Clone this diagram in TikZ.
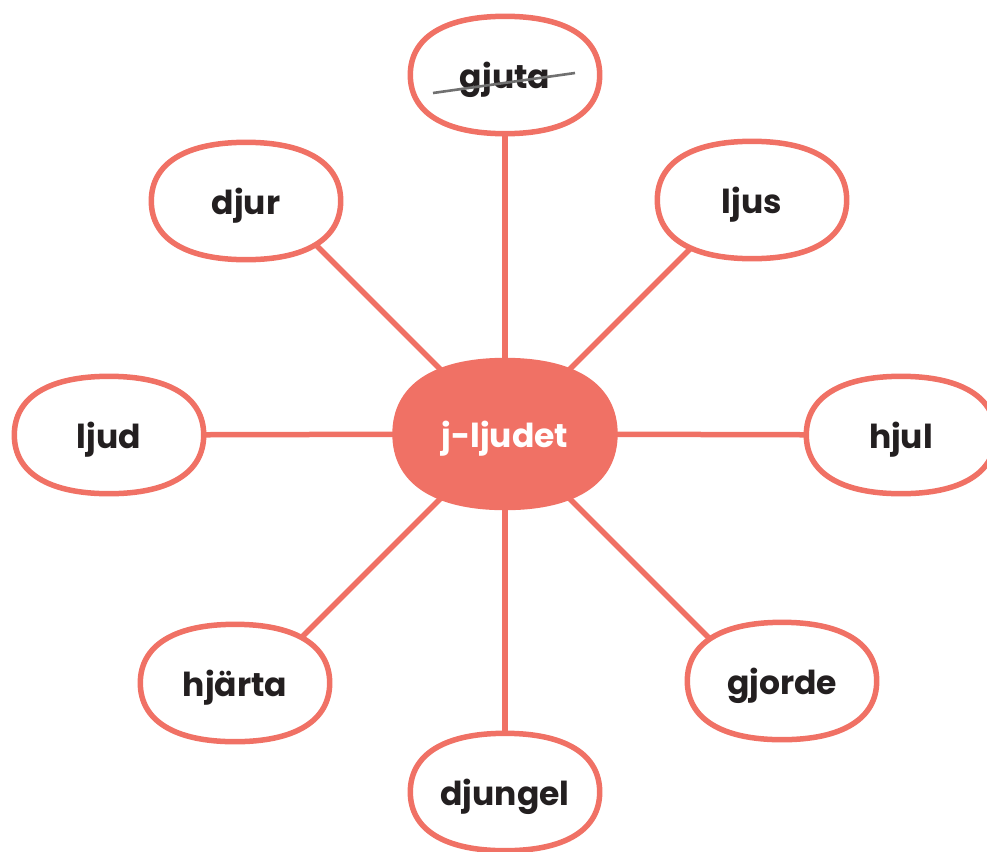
\documentclass[tikz,border=0pt]{standalone}
\usepackage{fontspec}
\setmainfont{Poppins}
\usetikzlibrary{calc}
\pgfdeclarelayer{bg}
\pgfdeclarelayer{mid}
\pgfsetlayers{bg,mid,main}
\definecolor{salmon}{RGB}{240,113,101}
\definecolor{ink}{RGB}{35,31,32}
\definecolor{strikegray}{RGB}{112,112,112}
\tikzset{
  word/.style={rectangle, inner sep=0pt, minimum width=189pt, minimum height=117pt,
    text depth=0pt, font=\fontsize{33}{36}\selectfont\bfseries, text=ink},
  hub/.style={rectangle, inner sep=0pt, minimum width=225pt, minimum height=152pt,
    text depth=0pt, font=\fontsize{33}{36}\selectfont\bfseries, text=white},
  link/.style={draw=salmon, line width=5.5pt},
  blobline/.style={draw=salmon, line width=5.5pt, fill=white},
  hubfill/.style={fill=salmon},
  strike/.style={draw=strikegray, line width=2.6pt},
}
\newcommand{\blobk}{0.64}
\newcommand{\blobpath}[2]{% #1 node name, #2 style
  \path[#2] (#1.east)
    .. controls ($(#1.east)!\blobk!(#1.north east)$) and ($(#1.north)!\blobk!(#1.north east)$) .. (#1.north)
    .. controls ($(#1.north)!\blobk!(#1.north west)$) and ($(#1.west)!\blobk!(#1.north west)$) .. (#1.west)
    .. controls ($(#1.west)!\blobk!(#1.south west)$) and ($(#1.south)!\blobk!(#1.south west)$) .. (#1.south)
    .. controls ($(#1.south)!\blobk!(#1.south east)$) and ($(#1.east)!\blobk!(#1.south east)$) .. cycle;}
\begin{document}
\begin{tikzpicture}[x=1pt,y=-1pt]
\useasboundingbox (0,0) rectangle (987,851);
% nodes
\node[hub]  (c)      at (505,434) {j-ljudet};
\node[word] (gjuta)  at (505,75)  {gjuta};
\node[word] (djur)   at (246,201) {djur};
\node[word] (ljus)   at (752,200) {ljus};
\node[word] (ljud)   at (109,435) {ljud};
\node[word] (hjul)   at (901,435) {hjul};
\node[word] (hjarta) at (235,683) {hjärta};
\node[word] (gjorde) at (782,681) {gjorde};
\node[word] (djungel) at (505,792) {djungel};
% end points of the 45 degree connectors (inside the target bubbles)
\coordinate (djurhit)   at ($(c.center)+(-233,-233)$);
\coordinate (ljushit)   at ($(c.center)+(234,-234)$);
\coordinate (hjartahit) at ($(c.center)+(-249,249)$);
\coordinate (gjordehit) at ($(c.center)+(247,247)$);
\coordinate (strikeA) at ($(gjuta.center)+(-72,18)$);
\coordinate (strikeB) at ($(gjuta.center)+(70,-2)$);
% connectors
\begin{pgfonlayer}{bg}
  \draw[link] (c.center) -- (gjuta.center);
  \draw[link] (c.center) -- (djungel.center);
  \draw[link] (c.center) -- (ljud.center);
  \draw[link] (c.center) -- (hjul.center);
  \draw[link] (c.center) -- (djurhit);
  \draw[link] (c.center) -- (ljushit);
  \draw[link] (c.center) -- (hjartahit);
  \draw[link] (c.center) -- (gjordehit);
\end{pgfonlayer}
% bubbles
\begin{pgfonlayer}{mid}
  \foreach \n in {gjuta,djur,ljus,ljud,hjul,hjarta,gjorde,djungel} {\blobpath{\n}{blobline}}
  \blobpath{c}{hubfill}
\end{pgfonlayer}
% strike-through of gjuta
\draw[strike] (strikeA) -- (strikeB);
\end{tikzpicture}
\end{document}
